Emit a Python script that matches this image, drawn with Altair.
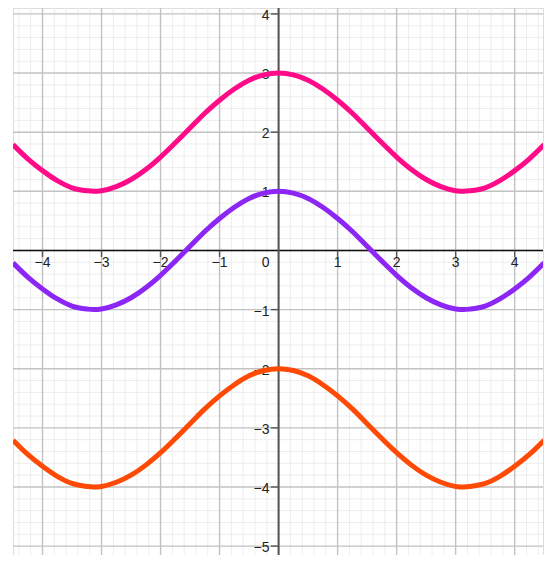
import altair as alt
import numpy as np
import pandas as pd

# x positions
xs = [-4.5, -4.25, -4.0, -3.75, -3.5, -3.25, -3.14, -3.0, -2.75, -2.5, -2.25, -2.0,
      -1.75, -1.5, -1.25, -1.0, -0.75, -0.5, -0.25, 0.0, 0.25, 0.5, 0.75, 1.0,
      1.25, 1.5, 1.75, 2.0, 2.25, 2.5, 2.75, 3.0, 3.14, 3.25, 3.5, 3.75, 4.0,
      4.25, 4.5]
# pink curve (top)
pink = [1.79, 1.55, 1.35, 1.18, 1.06, 1.01, 1.0, 1.01, 1.08, 1.2, 1.37, 1.58,
        1.82, 2.07, 2.32, 2.54, 2.73, 2.88, 2.97, 3.0, 2.97, 2.88, 2.73, 2.54,
        2.32, 2.07, 1.82, 1.58, 1.37, 1.2, 1.08, 1.01, 1.0, 1.01, 1.06, 1.18,
        1.35, 1.55, 1.79]
# purple curve (middle)
purple = [-0.21, -0.45, -0.65, -0.82, -0.94, -0.99, -1.0, -0.99, -0.92, -0.8, -0.63, -0.42,
          -0.18, 0.07, 0.32, 0.54, 0.73, 0.88, 0.97, 1.0, 0.97, 0.88, 0.73, 0.54,
          0.32, 0.07, -0.18, -0.42, -0.63, -0.8, -0.92, -0.99, -1.0, -0.99, -0.94, -0.82,
          -0.65, -0.45, -0.21]
# orange curve (bottom)
orange = [-3.21, -3.45, -3.65, -3.82, -3.94, -3.99, -4.0, -3.99, -3.92, -3.8, -3.63, -3.42,
          -3.18, -2.93, -2.68, -2.46, -2.27, -2.12, -2.03, -2.0, -2.03, -2.12, -2.27, -2.46,
          -2.68, -2.93, -3.18, -3.42, -3.63, -3.8, -3.92, -3.99, -4.0, -3.99, -3.94, -3.82,
          -3.65, -3.45, -3.21]

series_names = ["pink", "purple", "orange"]
series_colors = ["#FF0A88", "#8B26F5", "#FF4A05"]

x_tick_vals = [-4, -3, -2, -1, 1, 2, 3, 4]
y_tick_vals = [-5, -4, -3, -2, -1, 1, 2, 3, 4]

XDOM = [-4.5, 4.48]
YDOM = [-5.15, 4.1]
W, H = 530, 547

xs_scale = alt.Scale(domain=XDOM, nice=False, zero=False)
ys_scale = alt.Scale(domain=YDOM, nice=False, zero=False)
X = lambda f: alt.X(f, type="quantitative", scale=xs_scale, axis=None)
Y = lambda f: alt.Y(f, type="quantitative", scale=ys_scale, axis=None)

def lab(v):
    return ("\u2212" + str(abs(v))) if v < 0 else str(v)

# grid
minor_x = [v for v in np.round(np.arange(-4.4, 4.41, 0.2), 1) if abs(v - round(v)) > 1e-6]
minor_y = [v for v in np.round(np.arange(-5.0, 4.01, 0.2), 1) if abs(v - round(v)) > 1e-6]
major_x = list(range(-4, 5))
major_y = list(range(-5, 5))

minor_vx = alt.Chart(pd.DataFrame({"gx": minor_x})).mark_rule(color="#ededed", strokeWidth=1).encode(x=X("gx"))
minor_hy = alt.Chart(pd.DataFrame({"gy": minor_y})).mark_rule(color="#ededed", strokeWidth=1).encode(y=Y("gy"))
major_vx = alt.Chart(pd.DataFrame({"gx": major_x})).mark_rule(color="#c2c2c2", strokeWidth=1.4).encode(x=X("gx"))
major_hy = alt.Chart(pd.DataFrame({"gy": major_y})).mark_rule(color="#c2c2c2", strokeWidth=1.4).encode(y=Y("gy"))

axis_x = alt.Chart(pd.DataFrame({"gy": [0]})).mark_rule(color="#111111", strokeWidth=1.6).encode(y=Y("gy"))
axis_y = alt.Chart(pd.DataFrame({"gx": [0]})).mark_rule(color="#555555", strokeWidth=2).encode(x=X("gx"))

# ticks
yt = pd.DataFrame({"x0": [0] * len(y_tick_vals), "x1": [-0.13] * len(y_tick_vals), "y": y_tick_vals})
y_ticks = alt.Chart(yt).mark_rule(color="#555555", strokeWidth=1.4).encode(x=X("x1"), x2="x0:Q", y=Y("y"))
xt = pd.DataFrame({"y0": [0] * len(x_tick_vals), "y1": [-0.11] * len(x_tick_vals), "x": x_tick_vals})
x_ticks = alt.Chart(xt).mark_rule(color="#555555", strokeWidth=1.4).encode(y=Y("y1"), y2="y0:Q", x=X("x"))

# labels
xl = pd.DataFrame({"x": x_tick_vals, "y": [0] * len(x_tick_vals), "t": [lab(v) for v in x_tick_vals]})
x_labels = alt.Chart(xl).mark_text(font="Liberation Sans", fontSize=14, color="#222222",
                                   align="center", baseline="middle", dy=13).encode(x=X("x"), y=Y("y"), text="t:N")
yl = pd.DataFrame({"x": [0] * len(y_tick_vals), "y": y_tick_vals, "t": [lab(v) for v in y_tick_vals]})
y_labels = alt.Chart(yl).mark_text(font="Liberation Sans", fontSize=14, color="#222222",
                                   align="right", baseline="middle", dx=-9, dy=2).encode(x=X("x"), y=Y("y"), text="t:N")
ol = pd.DataFrame({"x": [0], "y": [0], "t": ["0"]})
o_label = alt.Chart(ol).mark_text(font="Liberation Sans", fontSize=14, color="#222222",
                                  align="center", baseline="middle", dx=-13, dy=13).encode(x=X("x"), y=Y("y"), text="t:N")

# curves
rows = []
for name, vals in zip(series_names, [pink, purple, orange]):
    for i, (xv, yv) in enumerate(zip(xs, vals)):
        rows.append({"x": xv, "y": yv, "s": name, "i": i})
df = pd.DataFrame(rows)
curves = alt.Chart(df).mark_line(strokeWidth=5, interpolate="monotone", clip=True).encode(
    x=X("x"), y=Y("y"),
    color=alt.Color("s:N", scale=alt.Scale(domain=series_names, range=series_colors), legend=None),
    detail="s:N", order="i:Q")

chart = alt.layer(minor_vx, minor_hy, major_vx, major_hy, axis_x, axis_y, y_ticks, x_ticks,
                  x_labels, y_labels, o_label, curves).properties(
    width=W, height=H,
    autosize=alt.AutoSizeParams(type="none"),
    padding={"left": 5, "top": 0, "right": 2, "bottom": 0},
).configure_view(stroke=None).configure(background="white")

chart.save("out.html", embed_options={"renderer": "svg", "actions": False})
